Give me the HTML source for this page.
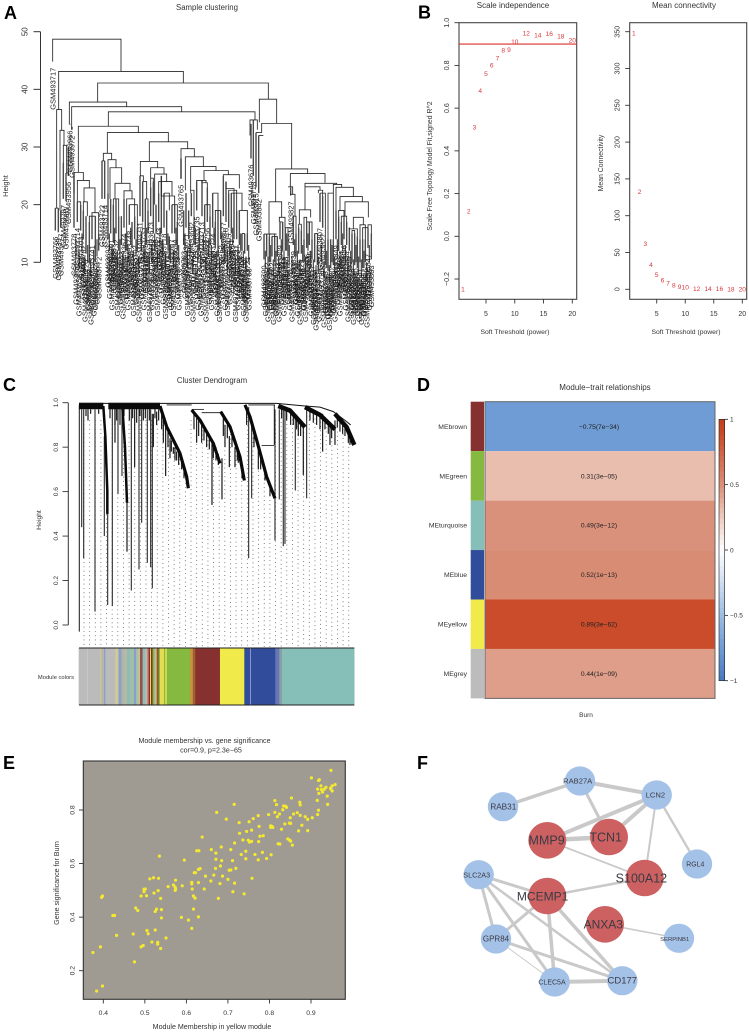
<!DOCTYPE html>
<html lang="en">
<head>
<meta charset="utf-8">
<title>WGCNA multi-panel figure</title>
<style>
html,body{margin:0;padding:0;background:#fff;}
body{width:749px;height:1032px;overflow:hidden;}
svg{display:block;font-family:"Liberation Sans",sans-serif;filter:blur(0.35px);}
text{fill:#333;}
.letter{font-size:18px;font-weight:bold;fill:#000;}
</style>
</head>
<body>
<svg id="fig" xmlns="http://www.w3.org/2000/svg" width="749" height="1032" viewBox="0 0 749 1032">
  <rect x="0" y="0" width="749" height="1032" fill="#fff"/>
  <text class="letter" x="4" y="19">A</text>
  <text class="letter" x="418" y="18.5">B</text>
  <text class="letter" x="3" y="391">C</text>
  <text class="letter" x="417" y="391">D</text>
  <text class="letter" x="3" y="769">E</text>
  <text class="letter" x="417" y="769">F</text>

  <g id="panelA">
    <text x="207" y="10" font-size="7.8" text-anchor="middle">Sample clustering</text>
    <text x="8" y="186" font-size="7.5" text-anchor="middle" transform="rotate(-90 8 186)">Height</text>
  </g>
  <g id="panelB">
    <text x="513" y="8" font-size="8" text-anchor="middle">Scale independence</text>
    <text x="684" y="8" font-size="8" text-anchor="middle">Mean connectivity</text>
    <text x="515" y="334" font-size="6.8" text-anchor="middle">Soft Threshold (power)</text>
    <text x="686" y="334" font-size="6.8" text-anchor="middle">Soft Threshold (power)</text>
    <text x="432" y="166" font-size="6.9" text-anchor="middle" transform="rotate(-90 432 166)">Scale Free Topology Model Fit,signed R^2</text>
    <text x="603" y="163" font-size="6.9" text-anchor="middle" transform="rotate(-90 603 163)">Mean Connectivity</text>
  </g>
  <g id="panelC">
    <text x="212" y="383" font-size="7.8" text-anchor="middle">Cluster Dendrogram</text>
    <text x="41" y="520" font-size="6.8" text-anchor="middle" transform="rotate(-90 41 520)">Height</text>
    <text x="74" y="679" font-size="5.8" text-anchor="end">Module colors</text>
  </g>
  <g id="panelD">
    <text x="605" y="390" font-size="8" text-anchor="middle">Module−trait relationships</text>
    <text x="586" y="717" font-size="6.5" text-anchor="middle">Burn</text>
  </g>
  <g id="panelE">
    <text x="204.500" y="743" font-size="7.1" text-anchor="middle">Module membership vs. gene significance</text>
    <text x="211" y="752.500" font-size="7.1" text-anchor="middle">cor=0.9, p=2.3e−65</text>
    <text x="212" y="1029" font-size="7.1" text-anchor="middle">Module Membership in yellow module</text>
    <text x="59" y="883" font-size="7.1" text-anchor="middle" transform="rotate(-90 59 883)">Gene significance for Burn</text>
  </g>
  <g id="panelF"></g>
</svg>

<script>
/* ---------- Panel A data: heights ---------- */
const sampleTicks = [10, 20, 30, 40, 50];
const sampleLeafOrder = [158,166,175,182,190,198,205,210,216,222,232,242,250,258,268,276,286,296,306,314,324,332,340,348,356,364,372,380,388,396,404,412,420,428,436,444,452,460,468,476,484,492,500,508,516,524,532,543,551,558,566,574,582,590,598,606,614,622,630,638,646,654,662,670,678,686,694,702,710,718,726,734,742,753,760,768,776,792,800,808,816,824,832,840,848,856,864,872,880,888,896,904,912,920,928,936,944,952,960,968,976,984,992,1000,1008,1016,1024,1032,1040,1048,1056,1064,1072,1080,1088,1096,1104,1114];
const sampleLeafTop = [44.8,19.4,19.4,19,27.3,25.5,30,34,33.5,25.6,20.5,20,19,18,17,18,18,15,27.6,27.6,22,21,20,21,18,18,21,15,20,17,18,16,25,24,21,19,23,24,20,22,25,22,19,14.5,20,20,17,28,19,22,19,22,17,24,16,24.2,20,23,18,22,17,19,19,25,24,22,22,22,19,19,15,15,15,34,34.7,32.5,32,14.9,14.9,14.5,14.5,14.5,14.5,17,17,16,14.5,23,18,15,16,15.5,14,17,17,14,15,13,22,21.5,13,14,14,14,19,18,17,18,17,16,15,15,14.5,14,14,14,16,15];
const sampleLeafBottom = [44.8,15.5,15.2,16,21,20.6,25,33.9,33,16,17,15.5,14,11.5,9.8,14,10,12,21,21,14,15,13.5,15,12,13,16,12,16.5,12.5,14,12,18,17,13,15,18,15,15,17,15,16,13,10.5,15,15,12,24.5,13,16,14,18,13,19,12,18,15,17,13,16,12.5,11,14,18,17,16,15,14,14,13,12,11.5,12,28,25,23,22,10.5,11,10,11,10,11,14,12,12,11,21.6,13,11,11.5,11.5,10,12.5,13,10.5,10,9.5,17,16,9.5,8.5,9,9.5,14,12,13,14,13,12,10,9.5,9,10,9,10,12.5,10.5];
const sampleLeafId = ["717","766","739","777","787","981","956","966","972","778","714","703","762","726","658","741","686","772","722","714","693","701","688","732","745","753","674","761","748","719","702","684","711","735","699","754","673","728","690","743","667","718","749","748","707","694","729","765","703","671","736","692","744","735","677","713","698","756","680","724","669","733","752","677","716","705","691","747","737","683","708","699","721","676","718","815","842","790","812","795","822","801","833","809","848","818","804","827","839","811","854","829","889","806","846","817","851","837","807","827","843","813","858","831","849","803","824","836","844","819","808","856","835","841","802","826","847","883"];
const denseLeafOrder = [228,237,246,254,263,272,281,291,328,336,344,352,360,368,376,384,392,400,408,416,424,432,440,448,456,464,472,480,488,496,504,512,520,528,536,555,562,570,578,586,594,602,610,618,626,634,642,650,658,666,674,682,690,698,706,714,722,730,738,746,796,804,812,820,828,836,844,852,860,868,876,884,892,900,908,916,924,932,940,948,956,964,972,980,988,996,1004,1012,1020,1028,1036,1044,1052,1060,1068,1076,1084,1092,1100,1108];
const denseLeafBottom = [11,9,12,8,10,7.5,9,11,12,10,13,9,11,8.5,12,10,13,9,11,8,12,10,13,8,10,12,9,13,11,8.5,12,10,9,13,10,12,9,11,8,13,10,9,12,8,11,10,13,9,8,12,10,9,11,13,8,10,12,9,8,10,9,8,10,7.5,9,8,11,9,12,10,8,11,9,7.5,10,8,12,9,7.5,6.5,8,10,7,9,6.5,10,8,11,9,12,10,8,9,7.5,10,8,7.5,9,7,10];
const denseLeafId = ["651","652","653","654","655","656","657","659","660","661","662","663","664","665","666","668","670","672","675","678","679","681","682","685","687","689","694","695","696","697","700","704","706","709","710","712","715","717","720","723","725","727","730","731","734","738","740","742","746","750","751","755","757","758","759","760","763","764","767","768","769","770","771","773","774","775","776","779","780","781","782","783","784","785","786","788","789","791","792","793","794","796","797","798","799","800","810","814","816","820","821","823","825","828","830","832","834","838","840","845"];
/* each merge: left order, right order, merge height, left child height, right child height */
const sampleMerges = [
 [158,363,48.7,44.8,43.1],[176,550,43.1,36.5,41.1],[293,805,41.1,37.8,38.3],[208,380,37.8,33.9,37],[215,545,37,33,36.1],[325,765,36.1,33.6,34.7],
 [235,415,33.6,25.6,32.5],[322,505,32.5,28.9,30.9],[448,563,30.9,27.5,29.7],[543,583,29.7,24.5,28.3],[556,610,28.3,22.5,26.6],[572,648,26.6,22.5,25.9],[612,685,25.9,24.2,25.2],
 [170,185,36.5,19.4,32.9],[166,175,19.4,19.4,19.4],[180,192,32.9,19,30.3],[190,200,30.3,27.3,25.5],[198,205,25.5,25.5,25],
 [222,250,25.6,22,24.2],[232,268,24.2,20.5,22.9],[252,285,22.9,20.5,18.6],[232,242,20.5,20.5,20],[250,262,20.5,19,18],[276,296,18.6,18,15],[268,286,18,17,18],
 [310,335,28.9,27.6,27.8],[306,314,27.6,27.6,27.6],[324,348,27.8,22,26.4],[330,365,26.4,21,23.7],[345,390,23.7,21,22.4],[340,356,21,20,18],[372,396,22.4,21,21],[380,404,21,15,18],[388,412,20,20,16],
 [421,473,27.5,25,26.4],[420,430,25,25,24],[428,440,24,24,21],[436,444,21,21,19],[452,492,26.4,24.6,25.3],[452,460,24.6,23,24],[464,500,25.3,20,24],[476,516,24,22,21.5],[484,524,21.5,25,20],[492,508,22,22,19],[516,532,20,20,17],
 [572,582,22.5,22,17],[590,618,24.2,24,23.8],[606,622,23.8,24.2,23],[614,630,20,20,18],[638,654,22,22,19],[646,662,19,17,19],
 [670,718,25.2,25,22.8],[678,702,22.8,24,22],[686,710,22.5,22,19],[694,726,22,22,19],[718,742,19,19,15],[726,734,15,15,15],
 [750,772,34.7,32,33],[768,785,32.5,32.5,32.5],[778,830,38.3,34.3,34.1],[785,875,34.1,32.5,26.2],[776,790,32,32,32],
 [827,923,26.2,20.5,25.4],[807,845,20.5,14.9,17.8],[792,830,14.9,14.9,14.9],[808,824,14.9,14.5,14.5],[816,832,14.5,14.5,14.5],[838,855,17.8,17,16],[840,848,17,17,17],[856,864,16,16,14.5],
 [871,975,25.4,23.1,23.8],[866,878,23.1,23,21.8],[872,885,21.8,21.6,18],[880,888,18,18,15],[915,1010,23.7,23.1,23.5],[915,960,23.1,19.1,22.5],[898,932,19.1,16.6,17.8],[896,904,16.6,16,15.5],[912,920,17.8,14,17],[920,936,17,17,14],[955,968,22.5,22,21.5],[960,976,22,22,13],[944,952,15,15,13],
 [1000,1025,23.5,22,23],[984,1000,22,14,14],[1008,1060,23,19,21.4],[1020,1087,21.4,19,20.5],[1016,1032,19,18,18],[1035,1105,20.5,18,17.8],[1024,1040,18,17,17],[1060,1090,17.8,15.8,16.5],[1048,1072,15.8,16,14.5],[1056,1064,15.5,15,15],[1080,1096,16.5,14,14],[1088,1104,16,14,16],[1104,1114,16.5,16,15]
];

/* ---------- Panel B data ---------- */
const powers = [1,2,3,4,5,6,7,8,9,10,12,14,16,18,20];
const scaleFit = [-0.248,0.117,0.51,0.682,0.761,0.80,0.833,0.87,0.874,0.911,0.95,0.94,0.947,0.936,0.917];
const meanConnectivity = [348,132.6,62,33,19.5,12,8,5.4,3.6,2.7,1,1,0.6,0.3,0.2];
const powerTicks = [5,10,15,20];
const scaleTicks = [-0.2,0,0.2,0.4,0.6,0.8,1];
const scaleTickLabels = ["−0.2","0.0","0.2","0.4","0.6","0.8","1.0"];
const connectivityTicks = [0,50,100,150,200,250,300,350];
const fitCutoff = [0.9];

/* ---------- Panel C data ---------- */
const geneTicks = [0,0.2,0.4,0.6,0.8,1];
const geneTickLabels = ["0.0","0.2","0.4","0.6","0.8","1.0"];
/* each ridge: gene order / height pairs */
const geneRidges = [
 [[237,0.985],[310,0.985]],[[325,0.985],[480,0.985]],[[310,0.985],[316,0.85],[322,0.6],[322,0.5]],[[367,0.985],[375,0.8],[381,0.55]],
 [[480,0.985],[500,0.892],[540,0.772],[560,0.667],[565,0.615]],[[575,0.967],[600,0.922],[640,0.817],[660,0.727]],
 [[662,0.96],[690,0.892],[720,0.757],[733,0.65]],[[735,0.99],[750,0.937],[770,0.832],[800,0.667],[825,0.57]],
 [[835,0.985],[870,0.965],[915,0.89]],[[915,0.98],[960,0.945],[1005,0.88]],[[1005,0.95],[1040,0.89],[1063,0.81]]
];
const ridgeWeight = [6.5,6.5,2.5,2.5,3.2,3.2,3.2,3.2,4.5,4.5,4.5];
const geneTopline = [[237,0.997],[830,0.997],[915,0.985],[960,0.98],[1000,0.96],[1040,0.915],[1052,0.9]];
/* each branch: gene order, top height, bottom height */
const geneBranches = [
 [238,0.99,-0.03],[245,0.97,0.44],[251,0.97,0.30],[264,0.97,0.92],[285,0.97,0.06],[313,0.85,0.40],[323,0.6,0.09],[337,0.98,0.085],[345,0.98,0.82],[354,0.98,0.59],[366,0.98,0.67],[381,0.6,0.33],[394,0.97,0.155],[404,0.97,0.71],[417,0.97,0.25],[425,0.97,0.46],[442,0.97,0.28],[452,0.97,0.26],[457,0.95,0.165],[460,0.95,0.80],
 [497,0.9,0.67],[490,0.93,0.82],[520,0.8,0.77],[636,0.82,0.54],[666,0.75,0.565],[688,0.85,0.71],[746,0.98,0.30],[755,0.9,0.57],[825,0.97,0.38],[838,0.97,0.565],[850,0.97,0.355],[855,0.97,0.365],[886,0.93,0.605],[910,0.9,0.675],[920,0.97,0.57],[968,0.95,0.78],[990,0.91,0.81],[1005,0.92,0.81],[1045,0.87,0.82],
 [345,0.98,0.9],[430,0.98,0.92],[470,0.96,0.9],[590,0.93,0.82],[605,0.9,0.82],[620,0.87,0.8],[640,0.82,0.75],[655,0.77,0.72],[675,0.9,0.8],[705,0.8,0.71],[715,0.78,0.73],[775,0.8,0.7],[795,0.7,0.65],[880,0.95,0.9],[895,0.93,0.85],[950,0.95,0.9],[985,0.91,0.86],[1020,0.93,0.87],[1035,0.91,0.85],[510,0.84,0.75],[530,0.78,0.74],[545,0.74,0.7],
 [258,0.97,0.94],[272,0.97,0.95],[296,0.97,0.95],[330,0.98,0.93],[350,0.98,0.92],[360,0.98,0.9],[372,0.98,0.94],[388,0.98,0.92],[398,0.98,0.93],[410,0.98,0.91],[420,0.98,0.94],[436,0.98,0.93],[448,0.98,0.92],[465,0.98,0.93],[476,0.97,0.92],[485,0.95,0.88],[504,0.87,0.8],[514,0.83,0.78],[525,0.8,0.74],[536,0.78,0.72],[552,0.71,0.66],
 [582,0.95,0.88],[596,0.93,0.85],[612,0.89,0.83],[628,0.85,0.79],[648,0.8,0.74],[670,0.93,0.85],[682,0.9,0.84],[696,0.87,0.8],[712,0.8,0.74],[726,0.72,0.66],[740,0.97,0.9],[762,0.87,0.8],[782,0.76,0.7],[810,0.63,0.58],
 [845,0.98,0.93],[860,0.97,0.92],[872,0.96,0.9],[890,0.94,0.88],[902,0.91,0.85],[930,0.97,0.92],[940,0.96,0.91],[960,0.95,0.88],[975,0.93,0.88],[995,0.9,0.84],[1012,0.94,0.89],[1028,0.92,0.86],[1050,0.86,0.81],[1058,0.83,0.81]
];
/* each junction: left order, right order, height */
const geneJunctions = [[605,662,0.955],[575,612,0.97],[785,822,0.808],[745,825,0.99],[500,575,0.99],[822,822,0.99]];
const moduleStart = [236,262,264,300,304,312,316,347,353,356,364,374,380,392,402,408,416,420,428,436,442,446,450,453,458,464,468,472,476,480,492,496,500,570,578,586,660,733,750,753,826,838,846];
const moduleHue = ["#bbb","#ccc","#bbb","#cdc78e","#b5b5b5","#8d9dcc","#bbb","#d6cf7f","#b9b9b9","#8d9dcc","#a9b8a8","#c2b39a","#8fbdb5","#9fc0a5","#8d9dcc","#a3bfa8","#ccc48a","#97504c","#8fbdb5","#b9b9b9","#c87a5a","#86302f","#e3dc55","#86302f","#86b93f","#bbb","#c6a040","#86302f","#86b93f","#e3dc55","#86b93f","#f0ea4b","#86b93f","#c7923e","#a0602f","#86302f","#f0ea4b","#304c9b","#8798c8","#304c9b","#6677b8","#8aa0a0","#85bfb8"];
const moduleEnd = [1063];

/* ---------- Panel D data ---------- */
const moduleNames = ["MEbrown","MEgreen","MEturquoise","MEblue","MEyellow","MEgrey"];
const moduleColors = ["#86302f","#86b93f","#85bfb8","#304c9b","#f0ea4b","#bcbcbc"];
const traitCorrelation = [-0.75,0.31,0.49,0.52,0.89,0.44];
const traitPvalue = ["7e−34","3e−05","3e−12","1e−13","3e−62","1e−09"];
const legendTicks = [1,0.5,0,-0.5,-1];
const legendTickLabels = ["1","0.5","0","−0.5","−1"];

/* ---------- Panel E data ---------- */
const moduleMembership = [.375,.393,.384,.398,.396,.398,.423,.427,.432,.472,.475,.478,.483,.491,.491,.496,.498,.498,.501,.504,.505,.508,.512,.521,.517,.522,.525,.525,.528,.531,.531,.532,.533,.535,.538,.538,.540,.540,.551,.556,.569,.573,.573,.574,.574,.588,.590,.595,.605,.613,.613,.614,.613,.617,.617,.621,.619,.622,.625,.630,.629,.633,.629,.629,.638,.643,.646,.659,.660,.666,.671,.671,.670,.673,.677,.681,.682,.684,.685,.687,.696,.700,.703,.707,.707,.711,.712,.715,.716,.716,.719,.727,.728,.732,.736,.739,.743,.743,.745,.749,.751,.752,.757,.757,.758,.761,.765,.773,.774,.773,.775,.777,.783,.785,.793,.798,.803,.803,.804,.806,.808,.813,.813,.817,.819,.821,.825,.824,.829,.832,.834,.837,.839,.841,.844,.848,.848,.851,.851,.850,.853,.855,.858,.867,.870,.873,.874,.874,.878,.886,.892,.892,.901,.903,.915,.916,.916,.918,.918,.920,.919,.924,.925,.928,.932,.936,.939,.940,.947,.948,.948,.951,.951,.958];
const geneSignificance = [.268,.289,.124,.143,.474,.479,.406,.406,.332,.337,.233,.434,.425,.479,.289,.294,.495,.504,.505,.480,.350,.338,.543,.547,.307,.490,.352,.421,.430,.306,.299,.499,.545,.628,.470,.283,.428,.397,.322,.514,.520,.512,.500,.505,.538,.399,.517,.613,.389,.530,.524,.505,.358,.430,.479,.471,.566,.566,.648,.648,.578,.581,.529,.401,.699,.505,.553,.535,.652,.557,.639,.616,.582,.791,.470,.525,.591,.662,.611,.553,.766,.541,.575,.576,.652,.611,.495,.821,.677,.527,.582,.753,.713,.634,.688,.487,.618,.646,.720,.687,.756,.680,.683,.725,.545,.768,.634,.614,.682,.779,.739,.702,.642,.704,.619,.783,.735,.741,.633,.739,.735,.791,.835,.820,.775,.674,.673,.785,.728,.801,.815,.748,.814,.810,.692,.688,.751,.750,.684,.771,.845,.669,.785,.790,.722,.829,.819,.780,.743,.775,.723,.765,.920,.771,.836,.878,.783,.799,.910,.913,.862,.890,.876,.867,.878,.885,.852,.821,.882,.878,.948,.890,.871,.895];
const membershipTicks = [0.4,0.5,0.6,0.7,0.8,0.9];
const significanceTicks = [0.2,0.4,0.6,0.8];

/* ---------- Panel F data ---------- */
const geneNames = ["RAB27A","LCN2","RAB31","RGL4","MMP9","TCN1","S100A12","MCEMP1","ANXA3","SLC2A3","GPR84","CLEC5A","CD177","SERPINB1"];
const hubGenes = ["MMP9","TCN1","S100A12","MCEMP1","ANXA3"];
const edgeFrom = ["RAB31","RAB27A","RAB27A","LCN2","LCN2","LCN2","LCN2","MMP9","MMP9","MCEMP1","SLC2A3","SLC2A3","SLC2A3","SLC2A3","MCEMP1","MCEMP1","MCEMP1","GPR84","GPR84","CLEC5A","ANXA3"];
const edgeTo = ["RAB27A","LCN2","TCN1","MMP9","TCN1","S100A12","RGL4","TCN1","S100A12","S100A12","MCEMP1","GPR84","CLEC5A","CD177","GPR84","CLEC5A","CD177","CLEC5A","CD177","CD177","SERPINB1"];
const edgeScore = [3.5,4,3,4,4,2,2.3,4.5,1.8,2.5,3,3,3,2.5,3,3.5,3.5,1,3,4,1.5];

/* ---------- drawing helpers ---------- */
const NS = "http://www.w3.org/2000/svg";
function shape(parent, tag, attrs){
  const el = document.createElementNS(NS, tag);
  for (const k in attrs) el.setAttribute(k, attrs[k]);
  parent.appendChild(el);
  return el;
}
function seg(parent, x1, y1, x2, y2, color, w){
  return shape(parent, "line", {x1:x1, y1:y1, x2:x2, y2:y2, stroke:color, "stroke-width":w});
}
function label(parent, x, y, s, size, anchor, rot, color){
  const el = shape(parent, "text", {x:x, y:y, "font-size":size, "text-anchor":anchor||"middle"});
  if (rot) el.setAttribute("transform", "rotate(" + rot + " " + x + " " + y + ")");
  if (color) el.style.fill = color;
  el.textContent = s;
  return el;
}
function linear(d0, d1, r0, r1){ return v => r0 + (v - d0) * (r1 - r0) / (d1 - d0); }

/* ---------- Panel A ---------- */
(function(){
  const g = document.getElementById("panelA");
  const xA = linear(0, 1200, 0, 400);
  const yA = linear(10, 50, 262.3, 31.7);
  const axis = seg(g, 40.5, yA(50), 40.5, yA(10), "#333", 1);
  
  
  sampleTicks.forEach(t => {
    const tick = seg(g, 33.5, yA(t), 40.5, yA(t), "#333", 1);
    
    
    const lab = label(g, 27.5, yA(t), String(t), 8, "middle", -90);
    
    
  });
  denseLeafOrder.forEach((x, i) => {
    const b = denseLeafBottom[i];
    const leaf = seg(g, xA(x), yA(b + 3), xA(x), yA(b), "#4a4a4a", 1.2);
    
    
    const px = xA(x) + 2.6, py = yA(b) + 6;
    const lab = label(g, px, py, "GSM493" + denseLeafId[i], 7.5, "end", -90, "#1a1a1a");
    
    
  });
  sampleLeafOrder.forEach((x, i) => {
    const leaf = seg(g, xA(x), yA(sampleLeafTop[i]), xA(x), yA(sampleLeafBottom[i]), "#4a4a4a", 1.4);
    
    
    const px = xA(x) + 2.6, py = yA(sampleLeafBottom[i]) + 6;
    const lab = label(g, px, py, "GSM493" + sampleLeafId[i], 7.5, "end", -90, "#1a1a1a");
    
    
  });
  sampleMerges.forEach(m => {
    const d = "M" + xA(m[0]) + " " + yA(m[3]) + "V" + yA(m[2]) + "H" + xA(m[1]) + "V" + yA(m[4]);
    const p = shape(g, "path", {d:d, fill:"none", stroke:"#262626", "stroke-width":0.85});
    
    
  });
})();

/* ---------- Panel B ---------- */
(function(){
  const g = document.getElementById("panelB");
  const x1 = linear(5, 20, 486, 572.3);
  const y1 = linear(0, 1, 236.3, 22.7);
  const x2 = linear(5, 20, 656.7, 742.3);
  const y2 = linear(0, 350, 289.3, 31.7);
  function frame(x0, x1p){
    const r = shape(g, "rect", {x:x0, y:22.7, width:x1p - x0, height:276.6, fill:"#fff", stroke:"#444", "stroke-width":1.1});
    
    
  }
  frame(459, 576.7);
  frame(629.7, 746.7);
  powerTicks.forEach(t => {
    [x1, x2].forEach(sx => {
      const tick = seg(g, sx(t), 299.3, sx(t), 303.5, "#333", 0.9);
      
      
      const lab = label(g, sx(t), 316, String(t), 7);
      
      
    });
  });
  scaleTicks.forEach((t, i) => {
    const tick = seg(g, 454.5, y1(t), 459, y1(t), "#333", 0.9);
    
    
    const lab = label(g, 449, y1(t), scaleTickLabels[i], 7.2, "middle", -90);
    
    
  });
  connectivityTicks.forEach(t => {
    const tick = seg(g, 625.2, y2(t), 629.7, y2(t), "#333", 0.9);
    
    
    const lab = label(g, 619.5, y2(t), String(t), 7.2, "middle", -90);
    
    
  });
  fitCutoff.forEach(c => {
    const cut = seg(g, 459, y1(c), 576.7, y1(c), "#d9302c", 1.1);
    
    
  });
  powers.forEach((p, i) => {
    const a = label(g, x1(p), y1(scaleFit[i]) + 2.2, String(p), 6.6, "middle", 0, "#d8383a");
    
    
    const b = label(g, x2(p), y2(meanConnectivity[i]) + 2.2, String(p), 6.6, "middle", 0, "#d8383a");
    
    
  });
})();

/* ---------- Panel C ---------- */
(function(){
  const g = document.getElementById("panelC");
  const xC = linear(237, 1063, 79, 354.3);
  const yC = linear(0, 1, 625, 402.7);
  function ridgeTop(u){
    for (const r of geneRidges){
      if (r.length > 2 && u >= r[0][0] && u <= r[r.length-1][0]){
        for (let i = 1; i < r.length; i++){
          if (u <= r[i][0]) return r[i-1][1] + (r[i][1]-r[i-1][1])*(u-r[i-1][0])/Math.max(1,r[i][0]-r[i-1][0]);
        }
      }
    }
    return 0.93;
  }
  const guides = shape(g, "g", {});
  
  
  for (let u = 252; u <= 1063; u += 16.9){
    const top = yC(ridgeTop(u)) + 2;
    const col = shape(guides, "line", {x1:xC(u), y1:top, x2:xC(u), y2:647, stroke:"#555", "stroke-width":0.85, "stroke-dasharray":"0.85 3.45"});
    
    
  }
  const axis = seg(g, 68.3, yC(1), 68.3, yC(0), "#333", 1);
  
  
  geneTicks.forEach((t, i) => {
    const tick = seg(g, 62.5, yC(t), 68.3, yC(t), "#333", 0.9);
    
    
    const lab = label(g, 58, yC(t), geneTickLabels[i], 6.6, "middle", -90);
    
    
  });
  geneBranches.forEach(b => {
    const s = seg(g, xC(b[0]), yC(b[1]), xC(b[0]), yC(b[2]), b[1] - b[2] > 0.3 ? "#333" : "#111", 1.15);
    
    
  });
  geneRidges.forEach((r, i) => {
    const pts = r.map(p => xC(p[0]) + "," + yC(p[1])).join(" ");
    const pl = shape(g, "polyline", {points:pts, fill:"none", stroke:"#0a0a0a", "stroke-width":ridgeWeight[i], "stroke-linejoin":"round"});
    
    
  });
  const tl = shape(g, "polyline", {points:geneTopline.map(p => xC(p[0]) + "," + yC(p[1])).join(" "), fill:"none", stroke:"#111", "stroke-width":1});
  
  
  geneJunctions.forEach(j => {
    const s = seg(g, xC(j[0]), yC(j[2]), xC(j[1]), yC(j[2]), "#111", 0.8);
    
    
  });
  const riser = seg(g, xC(823), yC(0.99), xC(823), yC(0.81), "#222", 1);
  
  
  moduleStart.forEach((s, i) => {
    const e = i + 1 < moduleStart.length ? moduleStart[i+1] : moduleEnd[0];
    const r = shape(g, "rect", {x:xC(s), y:648, width:xC(e) - xC(s) + 0.2, height:57, fill:moduleHue[i]});
    
    
  });
  const t1 = seg(g, 79, 648, 354.3, 648, "#222", 0.9);
  
  
  const t2 = seg(g, 79, 705, 354.3, 705, "#222", 0.9);
  
  
})();

/* ---------- Panel D ---------- */
(function(){
  const g = document.getElementById("panelD");
  const stops = [[-1,[74,120,191]],[-0.75,[111,156,212]],[-0.5,[157,188,226]],[0,[255,255,255]],[0.3,[234,192,178]],[0.5,[217,143,120]],[0.9,[202,74,40]],[1,[196,61,30]]];
  function colour(v){
    for (let i = 1; i < stops.length; i++){
      if (v <= stops[i][0]){
        const t = (v - stops[i-1][0]) / (stops[i][0] - stops[i-1][0]);
        const c = stops[i-1][1].map((a, k) => Math.round(a + (stops[i][1][k] - a) * t));
        return "rgb(" + c.join(",") + ")";
      }
    }
    return "rgb(196,61,30)";
  }
  const rowTop = 401.7, rowH = 49.45;
  moduleNames.forEach((name, i) => {
    const y = rowTop + i * rowH;
    const swatch = shape(g, "rect", {x:470.7, y:y, width:13.3, height:rowH, fill:moduleColors[i]});
    
    
    const cell = shape(g, "rect", {x:485, y:y, width:230, height:rowH, fill:colour(traitCorrelation[i])});
    
    
    const ml = label(g, 467, y + rowH/2 + 2.4, name, 6.8, "end");
    
    
    const val = String(traitCorrelation[i]).replace("-", "−");
    const cl = label(g, 599, y + rowH/2 + 2.4, val + "(" + traitPvalue[i] + ")", 6.7, "middle", 0, "#222");
    
    
  });
  const fr = shape(g, "rect", {x:485, y:rowTop, width:230, height:rowH*6, fill:"none", stroke:"#666", "stroke-width":1});
  
  
  const yL = linear(-1, 1, 680.7, 419.3);
  for (let v = -1; v < 1; v += 0.04){
    const b = shape(g, "rect", {x:719, y:yL(v + 0.04), width:5.7, height:yL(v) - yL(v + 0.04) + 0.3, fill:colour(v + 0.02)});
    
    
  }
  const bar = shape(g, "rect", {x:719, y:419.3, width:5.7, height:261.4, fill:"none", stroke:"#222", "stroke-width":0.6});
  
  
  legendTicks.forEach((t, i) => {
    const tick = seg(g, 724.7, yL(t), 728, yL(t), "#222", 0.8);
    
    
    const lab = label(g, 730, yL(t) + 2.3, legendTickLabels[i], 6.5, "start");
    
    
  });
})();

/* ---------- Panel E ---------- */
(function(){
  const g = document.getElementById("panelE");
  const xE = linear(0.4, 0.9, 103.3, 311);
  const yE = linear(0.2, 0.8, 970.7, 810);
  const bg = shape(g, "rect", {x:83.3, y:761, width:262, height:238.3, fill:"#9f9a92", stroke:"#333", "stroke-width":1.1});
  
  
  membershipTicks.forEach(t => {
    const tick = seg(g, xE(t), 999.3, xE(t), 1003.5, "#333", 0.9);
    
    
    const lab = label(g, xE(t), 1015, t.toFixed(1), 6.8);
    
    
  });
  significanceTicks.forEach(t => {
    const tick = seg(g, 79, yE(t), 83.3, yE(t), "#333", 0.9);
    
    
    const lab = label(g, 74.5, yE(t), t.toFixed(1), 6.8, "middle", -90);
    
    
  });
  moduleMembership.forEach((m, i) => {
    const c = shape(g, "circle", {cx:xE(m), cy:yE(geneSignificance[i]), r:1.6, fill:"#f5e92e"});
    
    
  });
})();

/* ---------- Panel F ---------- */
(function(){
  const g = document.getElementById("panelF");
  const xP = {RAB27A:580,LCN2:656.7,RAB31:503,RGL4:697,MMP9:547.3,TCN1:609,S100A12:644.7,MCEMP1:547.3,ANXA3:605,SLC2A3:478.7,GPR84:496,CLEC5A:554.7,CD177:622.3,SERPINB1:679};
  const yP = {RAB27A:781,LCN2:795,RAB31:806.7,RGL4:864,MMP9:840.3,TCN1:837,S100A12:878,MCEMP1:896,ANXA3:924.3,SLC2A3:874.7,GPR84:939,CLEC5A:982,CD177:980.7,SERPINB1:938.3};
  const nudge = {RAB27A:-2.3,LCN2:-1.3,RAB31:0.3,RGL4:-1.7,MMP9:-0.7,TCN1:-3.3,S100A12:-3.3,MCEMP1:-4.7,ANXA3:-1.7,SLC2A3:-2,GPR84:0,CLEC5A:-2.7,CD177:0,SERPINB1:-4.3};
  const fontPx = {RAB27A:7.6,LCN2:7.6,RAB31:8.2,RGL4:6.9,MMP9:12.5,TCN1:12.5,S100A12:12.5,MCEMP1:12,ANXA3:12,SLC2A3:7.2,GPR84:8,CLEC5A:7,CD177:9.5,SERPINB1:5.9};
  edgeFrom.forEach((a, i) => {
    const b = edgeTo[i];
    const e = seg(g, xP[a], yP[a], xP[b], yP[b], "#c9c9c9", edgeScore[i]);
    
    
  });
  geneNames.forEach(n => {
    const hub = hubGenes.indexOf(n) >= 0;
    const c = shape(g, "ellipse", {cx:xP[n], cy:yP[n], rx:hub ? 19 : 15.2, ry:hub ? 18.3 : 14.6, fill:hub ? "#cd6161" : "#a4c2e8"});
    
    
    const t = label(g, xP[n] + nudge[n], yP[n] + (hub ? 4.3 : 2.7), n, fontPx[n], "middle", 0, "#3a3a44");
    
    
  });
})();
</script>
</body>
</html>
